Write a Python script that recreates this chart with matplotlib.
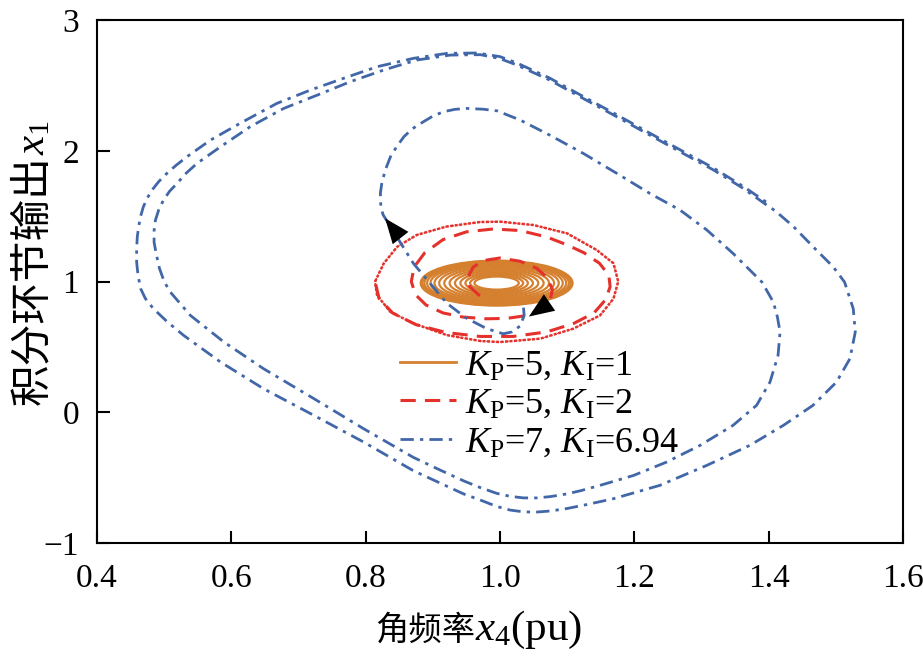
import matplotlib
matplotlib.use("Agg")
import matplotlib.pyplot as plt
from matplotlib.patches import Ellipse
from matplotlib.lines import Line2D

plt.rcParams["font.family"] = ["Liberation Serif", "Noto Sans CJK SC"]
plt.rcParams["mathtext.fontset"] = "custom"
plt.rcParams["mathtext.rm"] = "Liberation Serif"
plt.rcParams["mathtext.it"] = "Liberation Serif:italic"

ORANGE = "#D5802F"
RED = "#E5312B"
BLUE = "#4267A8"

# KP=7, KI=6.94 : trajectory, start near centre
blue_x = [1.035, 1.036, 1.030, 1.018, 1.005, 0.980, 0.950, 0.921, 0.896, 0.871,
          0.854, 0.843, 0.832, 0.826, 0.823, 0.822, 0.822, 0.824, 0.829, 0.837,
          0.846, 0.857, 0.870, 0.886, 0.900, 0.916, 0.933, 0.951, 0.975, 0.996,
          1.030, 1.074, 1.124, 1.174, 1.223, 1.268, 1.308, 1.347, 1.377, 1.390,
          1.407, 1.413, 1.417, 1.414, 1.402, 1.382, 1.347, 1.298, 1.248, 1.199,
          1.149, 1.120, 1.099, 1.075, 1.055, 1.035, 1.015, 0.995, 0.970, 0.946,
          0.910, 0.871, 0.797, 0.723, 0.648, 0.589, 0.539, 0.509, 0.500, 0.493,
          0.488, 0.485, 0.485, 0.487, 0.492, 0.499, 0.508, 0.519, 0.533, 0.549,
          0.584, 0.628, 0.678, 0.728, 0.777, 0.827, 0.876, 0.926, 0.971, 1.000,
          1.025, 1.074, 1.124, 1.174, 1.223, 1.268, 1.318, 1.362, 1.397, 1.410,
          1.437, 1.471, 1.496, 1.513, 1.526, 1.529, 1.521, 1.501, 1.466, 1.422,
          1.372, 1.308, 1.238, 1.169, 1.130, 1.099, 1.075, 1.055, 1.035, 1.015,
          0.995, 0.970, 0.946, 0.910, 0.871, 0.797, 0.723, 0.648, 0.584, 0.529,
          0.505, 0.484, 0.472, 0.465, 0.461, 0.459, 0.459, 0.460, 0.462, 0.465,
          0.469, 0.475, 0.482, 0.492, 0.504, 0.518, 0.534, 0.569, 0.613, 0.668,
          0.718, 0.767, 0.817, 0.871, 0.921, 0.966, 1.000, 1.025, 1.074, 1.124,
          1.174, 1.223, 1.268, 1.318, 1.362, 1.400]
blue_y = [0.800, 0.740, 0.660, 0.615, 0.600, 0.640, 0.720, 0.833, 0.986, 1.139,
          1.279, 1.370, 1.460, 1.510, 1.560, 1.620, 1.680, 1.750, 1.850, 1.955,
          2.030, 2.108, 2.170, 2.222, 2.265, 2.299, 2.317, 2.324, 2.318, 2.305,
          2.235, 2.120, 1.980, 1.827, 1.674, 1.547, 1.394, 1.215, 1.062, 0.996,
          0.843, 0.730, 0.614, 0.435, 0.231, 0.053, -0.100, -0.253, -0.381, -0.483,
          -0.559, -0.600, -0.625, -0.645, -0.655, -0.655, -0.643, -0.620, -0.575, -0.525,
          -0.440, -0.345, -0.126, 0.104, 0.333, 0.537, 0.741, 0.920, 1.000, 1.100,
          1.215, 1.300, 1.390, 1.470, 1.550, 1.623, 1.690, 1.750, 1.830, 1.904,
          2.031, 2.184, 2.324, 2.426, 2.528, 2.618, 2.694, 2.732, 2.735, 2.705,
          2.656, 2.541, 2.400, 2.260, 2.120, 1.993, 1.853, 1.713, 1.585, 1.540,
          1.420, 1.241, 1.113, 0.996, 0.792, 0.614, 0.410, 0.231, 0.053, -0.100,
          -0.253, -0.406, -0.559, -0.661, -0.705, -0.737, -0.755, -0.763, -0.762, -0.748,
          -0.720, -0.670, -0.625, -0.540, -0.447, -0.228, -0.024, 0.180, 0.384, 0.588,
          0.690, 0.792, 0.870, 0.945, 1.050, 1.150, 1.250, 1.343, 1.420, 1.500,
          1.572, 1.640, 1.700, 1.765, 1.827, 1.890, 1.955, 2.082, 2.210, 2.363,
          2.465, 2.554, 2.643, 2.707, 2.745, 2.748, 2.720, 2.672, 2.556, 2.415,
          2.275, 2.135, 2.008, 1.868, 1.728, 1.595]

# KP=5, KI=2 : spiral from the centre out to the ring
red_x = [0.970, 0.955, 0.953, 0.960, 0.975, 1.000, 1.030, 1.055, 1.070, 1.078,
         1.075, 1.062, 1.040, 1.010, 0.980, 0.945, 0.915, 0.890, 0.874, 0.868,
         0.872, 0.888, 0.915, 0.950, 0.990, 1.030, 1.070, 1.100, 1.125, 1.148,
         1.162, 1.164, 1.157, 1.140, 1.110, 1.070, 1.020, 0.970, 0.920, 0.875,
         0.840, 0.820, 0.814]
red_y = [0.890, 0.960, 1.040, 1.110, 1.160, 1.180, 1.155, 1.100, 1.030, 0.940,
         0.860, 0.790, 0.740, 0.718, 0.715, 0.728, 0.760, 0.820, 0.900, 1.000,
         1.110, 1.220, 1.320, 1.380, 1.402, 1.390, 1.340, 1.280, 1.220, 1.140,
         1.050, 0.960, 0.860, 0.760, 0.680, 0.615, 0.580, 0.580, 0.610, 0.670,
         0.760, 0.870, 1.000]

# KP=5, KI=2 : limit-cycle ring (traced several times in the original)
ring_x = [0.814, 0.827, 0.847, 0.876, 0.920, 0.970, 1.000, 1.050, 1.100, 1.144,
          1.169, 1.176, 1.169, 1.149, 1.109, 1.060, 1.000, 0.971, 0.921, 0.871,
          0.837, 0.817, 0.814]
ring_y = [1.000, 1.139, 1.266, 1.356, 1.420, 1.455, 1.458, 1.432, 1.368, 1.241,
          1.139, 1.000, 0.869, 0.741, 0.639, 0.563, 0.537, 0.545, 0.590, 0.680,
          0.767, 0.894, 1.000]

# KP=5, KI=1 : tightly wound spiral, one entry per turn
orange_cx, orange_cy = 0.995, 0.988
orange_w = [0.226, 0.221, 0.215, 0.207, 0.197, 0.185, 0.171, 0.156, 0.140,
            0.124, 0.108, 0.093, 0.079, 0.066]
orange_h = [0.344, 0.336, 0.327, 0.315, 0.300, 0.282, 0.261, 0.238, 0.214,
            0.190, 0.166, 0.143, 0.121, 0.100]

labels = [r"$K_\mathrm{P}$=5, $K_\mathrm{I}$=1",
          r"$K_\mathrm{P}$=5, $K_\mathrm{I}$=2",
          r"$K_\mathrm{P}$=7, $K_\mathrm{I}$=6.94"]

fig = plt.figure(figsize=(9.23, 6.57), dpi=100)
ax = fig.add_axes([0.1051, 0.1735, 0.8732, 0.7960])

for w, h in zip(orange_w, orange_h):
    ax.add_patch(Ellipse((orange_cx, orange_cy), w, h, fill=False,
                         edgecolor=ORANGE, lw=1.6, zorder=1))

ax.plot(ring_x, ring_y, color=RED, lw=1.8, dashes=(1.2, 0.6), zorder=2)
ax.plot(ring_x, ring_y, color=RED, lw=0.9, dashes=(0.8, 1.4), zorder=2)
ax.plot(red_x, red_y, color=RED, lw=2.2, dashes=(5, 3), zorder=2)

ax.plot(blue_x, blue_y, color=BLUE, lw=2.0, dashes=(4.8, 2.2, 1.2, 2.2), zorder=3)

arrow = dict(arrowstyle="-|>,head_length=1.0,head_width=0.4", color="black",
             lw=0, mutation_scale=18, shrinkA=0, shrinkB=0)
ax.annotate("", xy=(0.829, 1.483), xytext=(0.857, 1.30), arrowprops=arrow, zorder=5)
ax.annotate("", xy=(1.043, 0.732), xytext=(1.083, 0.872), arrowprops=arrow, zorder=5)

handles = [Line2D([], [], color=ORANGE, lw=2.0),
           Line2D([], [], color=RED, lw=2.2, dashes=(5, 3)),
           Line2D([], [], color=BLUE, lw=2.0, dashes=(4.8, 2.2, 1.2, 2.2))]
ax.legend(handles, labels, loc="upper left", bbox_to_anchor=(0.376, 0.371),
          frameon=False, fontsize=26, handlelength=1.55, handletextpad=0.25,
          labelspacing=0.15, borderpad=0, borderaxespad=0)

ax.set_xlim(0.4, 1.6)
ax.set_ylim(-1, 3)
ax.set_xticks([0.4, 0.6, 0.8, 1.0, 1.2, 1.4, 1.6])
ax.set_xticklabels(["0.4", "0.6", "0.8", "1.0", "1.2", "1.4", "1.6"])
ax.set_yticks([-1, 0, 1, 2, 3])
ax.set_yticklabels(["\u22121", "0", "1", "2", "3"])
ax.tick_params(direction="in", length=9, width=1.5, labelsize=24,
               top=False, right=False)
ax.tick_params(axis="x", pad=15)
ax.tick_params(axis="y", pad=13)
for sp in ax.spines.values():
    sp.set_linewidth(1.5)

# axis labels: Chinese part and the Latin/math part set in two pieces
fig.text(475 / 923, 0.026, "角频率", fontsize=24, family="Noto Sans CJK SC",
         ha="right", va="baseline")
fig.text(475 / 923, 0.026, r"$x_4$(pu)", fontsize=31, ha="left", va="baseline")
fig.text(44 / 923, 1 - 155 / 657, "积分环节输出", fontsize=30,
         family="Noto Sans CJK SC", rotation=90, rotation_mode="anchor",
         ha="right", va="baseline")
fig.text(44 / 923, 1 - 155 / 657, r"$x_1$", fontsize=31, rotation=90,
         rotation_mode="anchor", ha="left", va="baseline")

fig.savefig("out.png", dpi=100)
